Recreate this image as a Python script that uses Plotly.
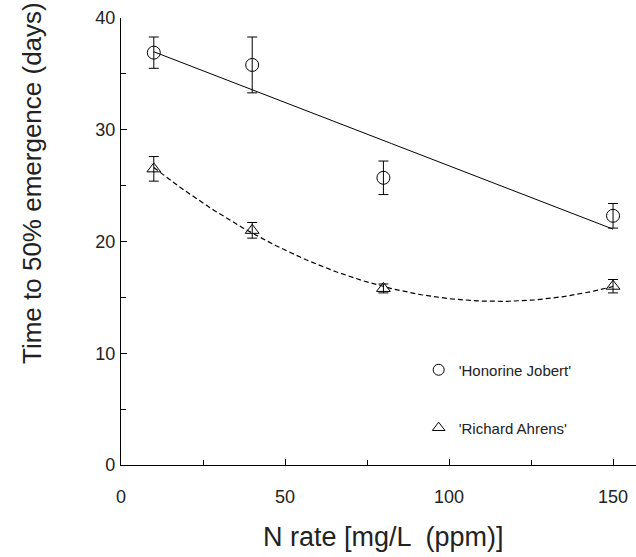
import numpy as np
import plotly.graph_objects as go

n_rate = [10, 40, 80, 150]
honorine = [36.9, 35.8, 25.7, 22.3]
honorine_err = [1.4, 2.5, 1.5, 1.1]
richard = [26.5, 21.0, 15.8, 16.0]
richard_err = [1.1, 0.7, 0.4, 0.6]
names = ["'Honorine Jobert'", "'Richard Ahrens'"]

xfit = np.linspace(min(n_rate), max(n_rate), 200)
lin = np.polyval(np.polyfit(n_rate, honorine, 1), xfit)
quad = np.polyval(np.polyfit(n_rate, richard, 2), xfit)

fig = go.Figure()
fig.add_trace(go.Scatter(x=xfit, y=lin, mode="lines", line=dict(color="black", width=1), showlegend=False, hoverinfo="skip"))
fig.add_trace(go.Scatter(x=xfit, y=quad, mode="lines", line=dict(color="black", width=1.2, dash="5px,3px"), showlegend=False, hoverinfo="skip"))
fig.add_trace(go.Scatter(x=n_rate, y=honorine, mode="markers",
                         marker=dict(symbol="circle-open", size=13, color="black", line=dict(width=1)),
                         error_y=dict(type="data", array=honorine_err, color="black", thickness=1, width=5),
                         showlegend=False))
fig.add_trace(go.Scatter(x=n_rate, y=richard, mode="markers",
                         marker=dict(symbol="triangle-up-open", size=12, color="black", line=dict(width=1)),
                         error_y=dict(type="data", array=richard_err, color="black", thickness=1, width=5),
                         showlegend=False))
# legend entries
fig.add_trace(go.Scatter(x=[None], y=[None], mode="markers", name=names[0],
                         marker=dict(symbol="circle-open", size=11, color="black", line=dict(width=1)),
                         legend="legend"))
fig.add_trace(go.Scatter(x=[None], y=[None], mode="markers", name=names[1],
                         marker=dict(symbol="triangle-up-open", size=11, color="black", line=dict(width=1)),
                         legend="legend2"))

legend_style = dict(bgcolor="rgba(0,0,0,0)", borderwidth=0, itemwidth=30,
                    font=dict(family="Liberation Sans", size=15, color="#222"),
                    xanchor="left", yanchor="middle")

fig.update_layout(
    width=636, height=557,
    margin=dict(l=121, r=0, t=18, b=92),
    plot_bgcolor="white", paper_bgcolor="white",
    font=dict(family="Liberation Sans", color="#222"),
    legend=dict(x=0.578, y=(370 - 465) / -447, **legend_style),
    legend2=dict(x=0.578, y=(428 - 465) / -447, **legend_style),
    xaxis=dict(range=[0, 157], tickvals=[0, 50, 100, 150], ticks="inside", ticklen=6,
               tickcolor="black", showline=True, linecolor="black", linewidth=1.2,
               showgrid=False, zeroline=False, ticklabelstandoff=15,
               tickfont=dict(size=18, color="#222"),
               minor=dict(dtick=25, ticks="inside", ticklen=5, tickcolor="black")),
    yaxis=dict(range=[0, 40], tickvals=[0, 10, 20, 30, 40], ticks="inside", ticklen=6,
               tickcolor="black", showline=True, linecolor="black", linewidth=1.2,
               showgrid=False, zeroline=False, ticklabelstandoff=1,
               tickfont=dict(size=18, color="#222"),
               minor=dict(dtick=5, ticks="inside", ticklen=5, tickcolor="black")),
    annotations=[
        dict(text="Time to 50% emergence (days)", textangle=-90, xref="paper", yref="paper",
             x=(32 - 121) / 515, y=(465 - 366) / 447, xanchor="center", yanchor="bottom",
             showarrow=False, font=dict(size=26, color="#222")),
        dict(text="N rate [mg/L  (ppm)]", xref="paper", yref="paper",
             x=(383 - 121) / 515, y=(465 - 537) / 447, xanchor="center", yanchor="middle",
             showarrow=False, font=dict(size=27, color="#222")),
    ],
)

fig.write_html("out.html")
